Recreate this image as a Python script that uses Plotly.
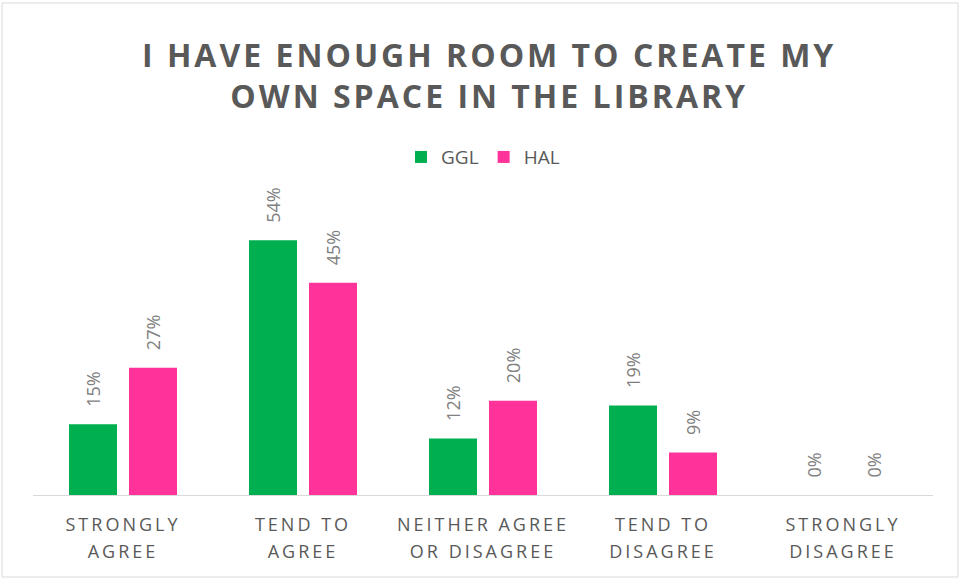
import plotly.graph_objects as go

categories = ["STRONGLY<br>AGREE", "TEND TO<br>AGREE", "NEITHER AGREE<br>OR DISAGREE", "TEND TO<br>DISAGREE", "STRONGLY<br>DISAGREE"]
ggl = [15, 54, 12, 19, 0]
hal = [27, 45, 20, 9, 0]
series_names = ["GGL", "HAL"]
series_colors = ["#00B050", "#FF3399"]
title_text = "I HAVE ENOUGH ROOM TO CREATE MY<br>OWN SPACE IN THE LIBRARY"

FONT = "Open Sans"
fig = go.Figure()
for name, vals, col in zip(series_names, [ggl, hal], series_colors):
    fig.add_trace(go.Bar(x=categories, y=vals, name=name, marker=dict(color=col, line=dict(width=0))))

annotations = []
for vals, shift in zip([ggl, hal], [-30, 30]):
    for c, v in zip(categories, vals):
        annotations.append(dict(x=c, y=v, xref="x", yref="y", text=f"{v}%", showarrow=False,
                                textangle=-90, xshift=shift, yshift=15, yanchor="bottom", xanchor="center",
                                font=dict(family=FONT, size=18, color="#808080")))

fig.update_layout(
    width=961, height=579,
    margin=dict(l=33, r=28, t=212, b=84),
    paper_bgcolor="white", plot_bgcolor="white",
    barmode="group", bargap=0.3333, bargroupgap=0.2,
    title=dict(text=title_text, x=0.509, xanchor="center", xref="container",
               y=0.885, yanchor="middle", yref="container",
               font=dict(family=FONT, size=32, color="#595959", weight="bold")),
    legend=dict(orientation="h", x=0.5, xanchor="center", y=1.194, yanchor="middle",
                font=dict(family=FONT, size=19, color="#595959"), itemwidth=30, traceorder="normal"),
    xaxis=dict(showline=True, linecolor="#D9D9D9", linewidth=1, ticks="", showgrid=False,
               tickfont=dict(family=FONT, size=18, color="#595959"), range=[-0.5, 4.5],
               ticklabelstandoff=13),
    yaxis=dict(range=[0, 60], visible=False, showgrid=False, zeroline=False),
    annotations=annotations,
    shapes=[dict(type="rect", xref="paper", yref="paper", x0=-0.0344, x1=1.0278, y0=-0.2898, y1=1.7385,
                 line=dict(color="#D9D9D9", width=1), fillcolor="rgba(0,0,0,0)", layer="below")],
)

post = """
document.body.style.margin='0';
var s=document.createElement('style');
s.innerHTML='.gtitle{letter-spacing:3px;} .xtick text{letter-spacing:3px;}';
document.head.appendChild(s);
document.querySelectorAll('.xtick tspan.line').forEach(function(t){
  var d=parseFloat(t.getAttribute('dy')||'0');
  if(d>0){t.setAttribute('dy','1.53em');}
});
"""
fig.write_html("out.html", post_script=post, config={"displayModeBar": False})
